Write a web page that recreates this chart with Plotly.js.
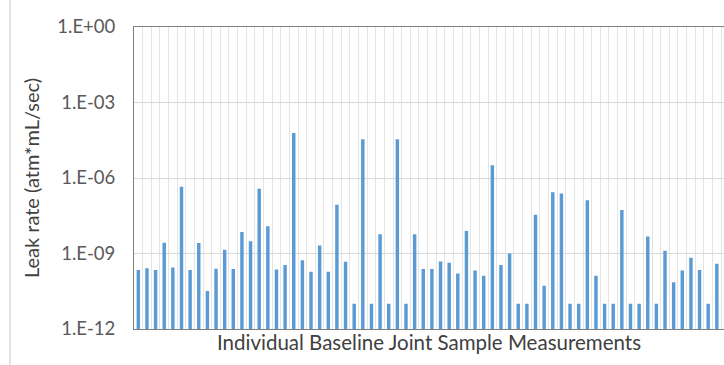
<!DOCTYPE html>
<html>
<head>
<meta charset="utf-8">
<script src="https://cdn.plot.ly/plotly-3.0.1.min.js"></script>
<style>
  html, body { margin: 0; padding: 0; background: #fff; }
  #chart { width: 724px; height: 365px; }
</style>
</head>
<body>
<div id="chart"></div>
<script>
// Sample index (categories)
const samples = Array.from({length: 68}, (_, i) => String(i + 1));

// Leak rate per sample (atm*mL/sec)
const leakRate = [
  2.2e-10, 2.6e-10, 2.2e-10, 2.7e-9, 2.8e-10, 4.5e-7, 2.2e-10, 2.6e-9, 3.2e-11, 2.5e-10,
  1.4e-9, 2.4e-10, 7.1e-9, 3.1e-9, 3.7e-7, 1.2e-8, 2.3e-10, 3.5e-10, 6.2e-5, 5.4e-10,
  1.9e-10, 2.1e-9, 1.9e-10, 8.7e-8, 4.7e-10, 1.0e-11, 3.5e-5, 1.0e-11, 5.8e-9, 1.0e-11,
  3.5e-5, 1.0e-11, 5.8e-9, 2.4e-10, 2.4e-10, 4.8e-10, 4.3e-10, 1.6e-10, 7.8e-9, 2.1e-10,
  1.3e-10, 3.2e-6, 3.5e-10, 1.0e-9, 1.0e-11, 1.0e-11, 3.5e-8, 5.2e-11, 2.7e-7, 2.4e-7,
  1.0e-11, 1.0e-11, 1.3e-7, 1.3e-10, 1.0e-11, 1.0e-11, 5.4e-8, 1.0e-11, 1.0e-11, 4.7e-9,
  1.0e-11, 1.3e-9, 7.2e-11, 2.1e-10, 6.8e-10, 2.2e-10, 1.0e-11, 3.9e-10
];

// Y tick values and labels
const yTickVals = [1, 1e-3, 1e-6, 1e-9, 1e-12];
const yTickText = ['1.E+00', '1.E-03', '1.E-06', '1.E-09', '1.E-12'];

const fontFam = 'Lato, "Open Sans", "DejaVu Sans", sans-serif';

const trace = {
  type: 'bar',
  x: samples,
  y: leakRate,
  marker: { color: '#5B9BD5', line: { width: 0 } },
  hoverinfo: 'x+y'
};

const layout = {
  width: 724,
  height: 365,
  margin: { l: 134, r: 0, t: 27, b: 36, pad: 0 },
  paper_bgcolor: '#ffffff',
  plot_bgcolor: '#ffffff',
  showlegend: false,
  bargap: 0.6,
  font: { family: fontFam, color: '#595959', size: 18 },
  xaxis: {
    type: 'category',
    range: [-0.5, 67.83],
    showticklabels: false,
    ticks: '',
    tickson: 'boundaries',
    dtick: 1,
    showgrid: true,
    gridcolor: '#e4e4e4',
    gridwidth: 1,
    showline: true,
    mirror: true,
    linecolor: '#7f7f7f',
    linewidth: 1,
    zeroline: false,
    fixedrange: true,
    automargin: false,
    title: {
      text: 'Individual Baseline Joint Sample Measurements',
      font: { family: fontFam, size: 20.5, color: '#404040' },
      standoff: 6
    }
  },
  yaxis: {
    type: 'log',
    range: [-12, 0],
    tickvals: yTickVals,
    ticktext: yTickText,
    ticks: '',
    ticklabelstandoff: 14,
    tickfont: { family: fontFam, size: 18.5, color: '#595959' },
    showgrid: true,
    gridcolor: '#d9d9d9',
    gridwidth: 1,
    showline: true,
    linecolor: '#7f7f7f',
    linewidth: 1,
    zeroline: false,
    fixedrange: true,
    automargin: false,
    title: {
      text: 'Leak rate (atm*mL/sec)',
      font: { family: fontFam, size: 20, color: '#404040' },
      standoff: 12
    }
  },
  shapes: [
    {
      type: 'line', xref: 'paper', yref: 'paper',
      x0: -0.2102, x1: -0.2102, y0: -0.2, y1: 1.2,
      line: { color: '#c8c8c8', width: 1 }
    }
  ]
};

Plotly.newPlot('chart', [trace], layout, { staticPlot: true, displayModeBar: false });
</script>
</body>
</html>
